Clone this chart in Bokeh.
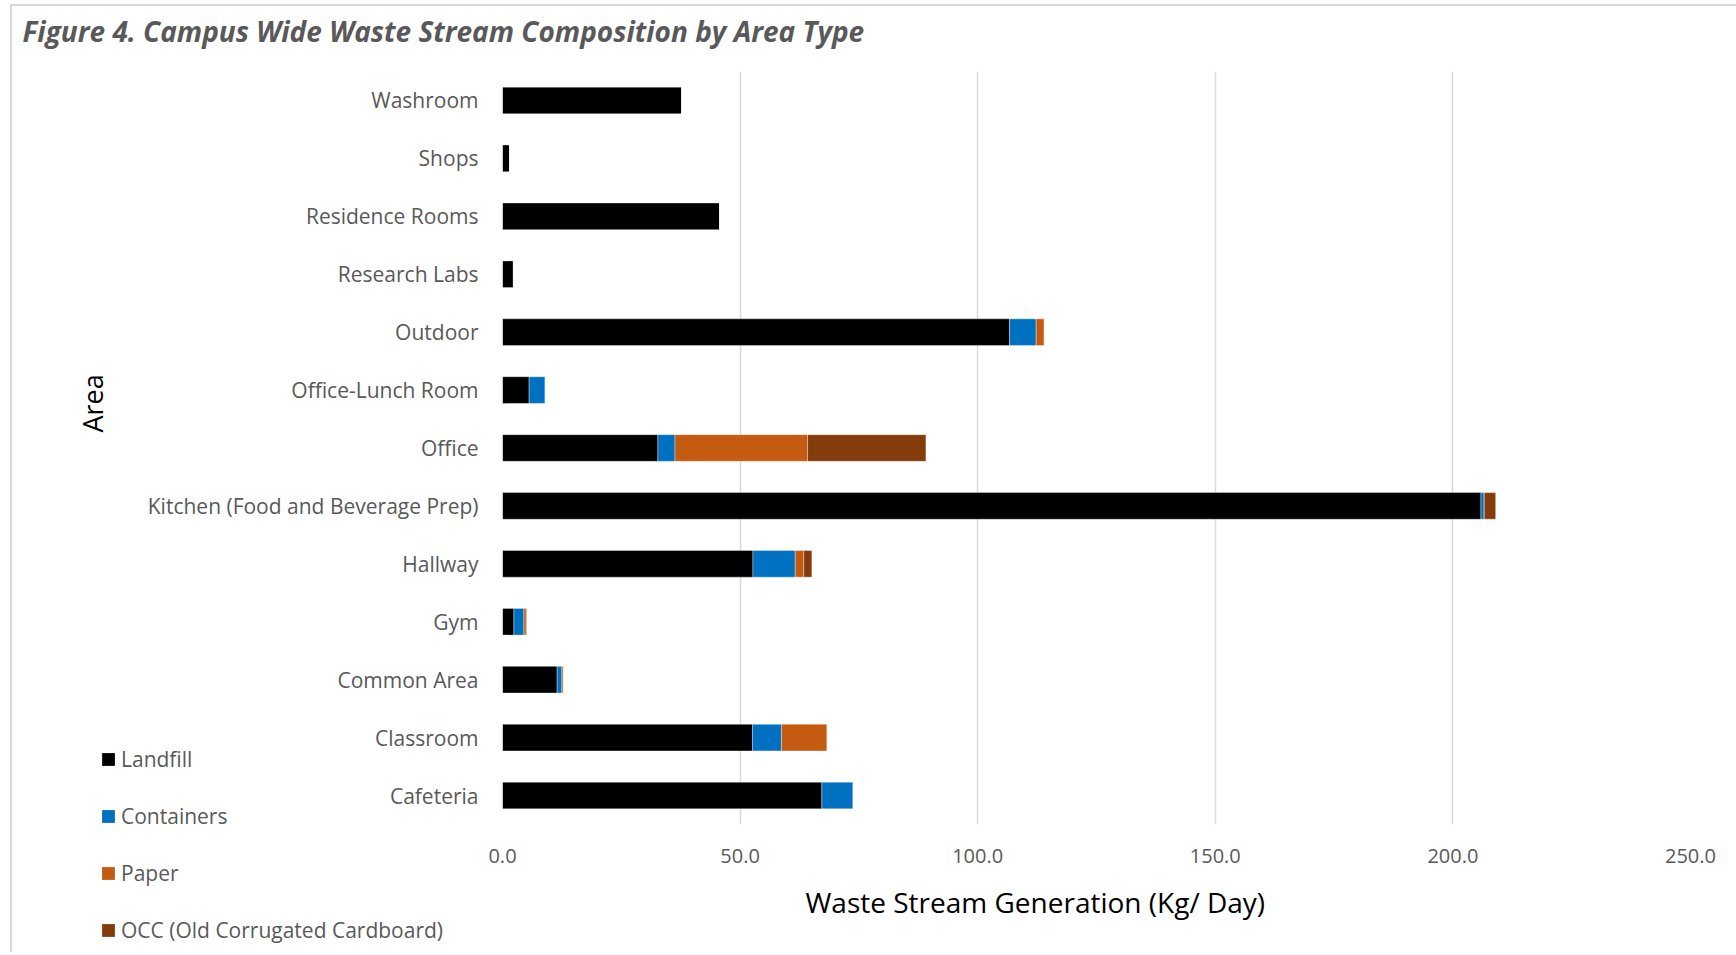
from bokeh.plotting import figure
from bokeh.models import (FactorRange, Range1d, ColumnDataSource, Legend, LegendItem, Title,
                          FixedTicker, NumeralTickFormatter)
from bokeh.layouts import column
from bokeh.embed import file_html
from bokeh.resources import INLINE

areas = ["Cafeteria", "Classroom", "Common Area", "Gym", "Hallway",
         "Kitchen (Food and Beverage Prep)", "Office", "Office-Lunch Room",
         "Outdoor", "Research Labs", "Residence Rooms", "Shops", "Washroom"]
landfill = [67.2, 52.6, 11.5, 2.4, 52.7, 205.9, 32.7, 5.6, 106.7, 2.3, 45.7, 1.5, 37.7]
containers = [6.6, 6.1, 1.0, 2.1, 8.9, 0.7, 3.6, 3.4, 5.6, 0.0, 0.0, 0.0, 0.0]
paper = [0.0, 9.6, 0.3, 0.5, 1.8, 0.0, 27.9, 0.0, 1.7, 0.0, 0.0, 0.0, 0.0]
occ = [0.0, 0.0, 0.0, 0.1, 1.7, 2.4, 24.9, 0.0, 0.0, 0.0, 0.0, 0.0, 0.0]

series = ["Landfill", "Containers", "Paper", "OCC (Old Corrugated Cardboard)"]
keys = ["landfill", "containers", "paper", "occ"]
colors = ["#000000", "#0070C0", "#C55A11", "#843C0C"]
x_ticks = [0, 50, 100, 150, 200, 250]

source = ColumnDataSource(dict(area=areas, landfill=landfill, containers=containers,
                               paper=paper, occ=occ))

# the whole chart sits in a box with a light grey left/top border; content origin offset
OX, OY = 12, 6
W, H = 1736 - OX, 941
FRAME_LEFT, FRAME_TOP, FRAME_BOTTOM = 502 - OX, 71 - OY, 824 - OY

p = figure(width=W, height=H, output_backend="svg", toolbar_location=None,
           y_range=FactorRange(*areas, range_padding=0),
           x_range=Range1d(0, 250),
           min_border_left=FRAME_LEFT, min_border_right=46,
           min_border_top=FRAME_TOP, min_border_bottom=H - FRAME_BOTTOM)
p.frame_align = False
p.outline_line_color = None
p.background_fill_color = "white"
p.border_fill_color = "white"

p.hbar_stack(keys, y="area", height=0.46, color=colors, source=source,
             line_color="white", line_alpha=0.35, line_width=1)

# x axis
p.xaxis.ticker = FixedTicker(ticks=x_ticks)
p.xaxis.formatter = NumeralTickFormatter(format="0.0")
p.xaxis.axis_line_color = None
p.xaxis.major_tick_line_color = None
p.xaxis.minor_tick_line_color = None
p.xaxis.major_tick_out = 0
p.xaxis.major_label_standoff = 24
p.xaxis.major_label_text_font = "Open Sans"
p.xaxis.major_label_text_font_size = "20px"
p.xaxis.major_label_text_color = "#595959"

xtitle = Title(text="Waste Stream Generation (Kg/ Day)", align="left", offset=805 - 502,
               standoff=30, text_font="Open Sans", text_font_size="28px",
               text_font_style="normal", text_color="#000000")
p.add_layout(xtitle, "below")

# y axis
p.yaxis.axis_line_color = None
p.yaxis.major_tick_line_color = None
p.yaxis.minor_tick_line_color = None
p.yaxis.major_tick_out = 0
p.yaxis.major_label_standoff = 24
p.yaxis.major_label_text_font = "Open Sans"
p.yaxis.major_label_text_font_size = "21px"
p.yaxis.major_label_text_color = "#595959"

ytitle = Title(text="Area", align="left", offset=824 - 432,
               standoff=68, text_font="Open Sans", text_font_size="27px",
               text_font_style="normal", text_color="#000000")
p.add_layout(ytitle, "left")

p.xgrid.grid_line_color = "#d9d9d9"
p.xgrid.grid_line_width = 1.5
p.ygrid.grid_line_color = None

# chart title, in a transparent strip laid over the top of the chart
TF_H, TF_TOP = 50, 5
tf = figure(width=W, height=TF_H, output_backend="svg", toolbar_location=None,
            x_axis_type=None, y_axis_type=None,
            min_border_left=22 - OX, min_border_right=0, min_border_top=0, min_border_bottom=0,
            outline_line_color=None, background_fill_color=None, border_fill_color=None)
tf.frame_align = False
tf.grid.visible = False
tf.title.text = "Figure 4. Campus Wide Waste Stream Composition by Area Type"
tf.title.align = "left"
tf.title.vertical_align = "top"
tf.title.offset = 0
tf.title.standoff = 0
tf.title.text_font = "Open Sans"
tf.title.text_font_size = "28px"
tf.title.text_font_style = "bold italic"
tf.title.text_color = "#595959"
tf.margin = (TF_TOP - H, 0, 0, 0)

# legend, in a transparent strip laid over the bottom of the chart
LEG_TOP, LEG_LEFT, LEG_H = 745 - OY, 100 - OX, 207
lf = figure(width=W, height=LEG_H, output_backend="svg", toolbar_location=None,
            x_axis_type=None, y_axis_type=None,
            x_range=Range1d(-2, -1), y_range=FactorRange(*areas),
            min_border_left=LEG_LEFT, min_border_right=0, min_border_top=0, min_border_bottom=0,
            outline_line_color=None, background_fill_color=None, border_fill_color=None)
lf.frame_align = False
lf.grid.visible = False
rs = lf.hbar_stack(keys, y="area", height=0.46, color=colors, source=source, line_color=None)
legend = Legend(items=[LegendItem(label=s, renderers=[r]) for s, r in zip(series, rs)],
                location="top_left", orientation="vertical",
                padding=0, margin=0, spacing=29,
                glyph_width=16, glyph_height=16, label_height=21, label_standoff=5,
                label_text_font="Open Sans", label_text_font_size="21px", label_text_color="#595959",
                background_fill_alpha=0, border_line_color=None)
lf.add_layout(legend)
lf.margin = (LEG_TOP - (TF_TOP + TF_H), 0, 0, 0)

layout = column(p, tf, lf)
layout.margin = (4, 0, 0, 10)
layout.styles = {"border-left": "2px solid #d9d9d9", "border-top": "2px solid #d9d9d9"}
open("out.html", "w").write(file_html(layout, INLINE))
